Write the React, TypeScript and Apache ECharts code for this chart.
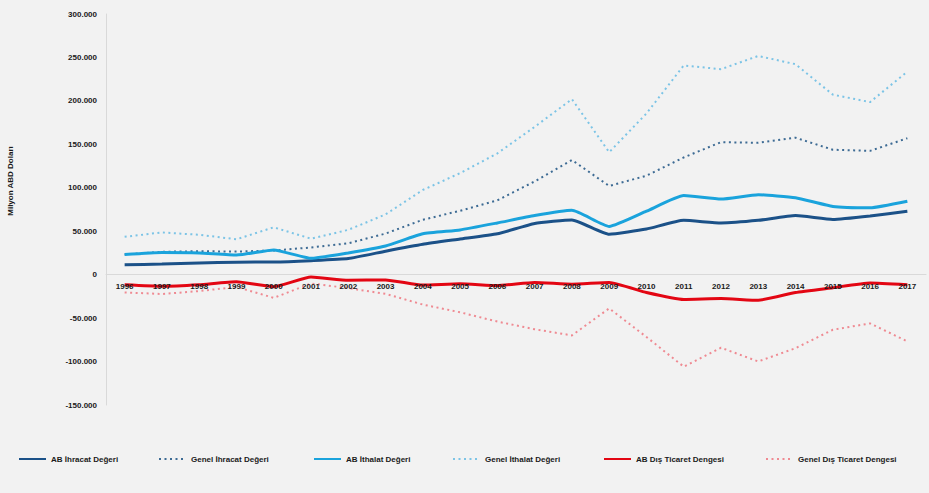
import React, { useEffect, useRef } from "react";
import * as echarts from "echarts";

// Years on the category axis
const years = [
  "1996", "1997", "1998", "1999", "2000", "2001", "2002", "2003", "2004", "2005", "2006",
  "2007", "2008", "2009", "2010", "2011", "2012", "2013", "2014", "2015", "2016", "2017",
];

// Values in million USD
const abIhracat = [11500, 12200, 13500, 14400, 14500, 16100, 18500, 27000, 35000, 41000, 47000,
  59000, 63000, 46500, 52500, 62500, 59500, 62500, 68000, 63500, 67500, 73000];
const genelIhracat = [23200, 26300, 27000, 26600, 27800, 31300, 36100, 47300, 63200, 73500, 85500,
  107300, 132000, 102100, 113900, 134900, 152500, 151800, 157600, 143800, 142500, 157000];
const abIthalat = [23100, 25500, 25000, 22600, 28400, 18800, 25000, 33000, 47000, 51500, 59500,
  68000, 74000, 55500, 73000, 91000, 87000, 92000, 88500, 78500, 77000, 84500];
const genelIthalat = [43600, 48600, 45900, 40700, 54500, 41400, 51600, 69300, 97500, 116800, 139600,
  170100, 202000, 140900, 185500, 240800, 236500, 251700, 242200, 207200, 198600, 233800];
const abDenge = [-11600, -13300, -11500, -8200, -13900, -2700, -6500, -6000, -12000, -10500, -12500,
  -9000, -11000, -9000, -20500, -28500, -27500, -29500, -20500, -15000, -9500, -11500];
const genelDenge = [-20400, -22300, -18900, -14100, -26700, -10100, -15500, -22100, -34400, -43300, -54000,
  -62800, -69900, -38800, -71700, -105900, -84100, -99900, -84600, -63400, -56100, -76800];

// Y-axis ticks
const yMin = -150000;
const yMax = 300000;
const yStep = 50000;

const seriesNames = [
  "AB İhracat Değeri",
  "Genel İhracat Değeri",
  "AB İthalat Değeri",
  "Genel İthalat Değeri",
  "AB Dış Ticaret Dengesi",
  "Genel Dış Ticaret Dengesi",
];

const FONT = "'Liberation Sans', Arial, sans-serif";

const GRID_TOP = 14;
const GRID_BOTTOM = 88;
const CHART_H = 493;

function formatTr(v: number): string {
  const s = Math.abs(v).toString().replace(/\B(?=(\d{3})+(?!\d))/g, ".");
  return v < 0 ? "-" + s : s;
}

export default function App() {
  const ref = useRef<HTMLDivElement>(null);

  useEffect(() => {
    if (!ref.current) return;
    const chart = echarts.init(ref.current, null, { renderer: "svg" });

    // the category axis (line and labels) sits on the zero value
    const plotH = CHART_H - GRID_TOP - GRID_BOTTOM;
    const zeroFromBottom = ((0 - yMin) / (yMax - yMin)) * plotH;

    const solid = (name: string, data: number[], color: string) => ({
      name,
      type: "line",
      data,
      symbol: "none",
      smooth: 0.15,
      lineStyle: { color, width: 3 },
      itemStyle: { color },
    });
    const dotted = (name: string, data: number[], color: string) => ({
      name,
      type: "line",
      data,
      symbol: "none",
      lineStyle: { color, width: 2, type: [2, 3.5] },
      itemStyle: { color },
    });

    const legendLefts = [18, 158, 313, 452, 603, 765];
    const legends = seriesNames.map((n, i) => ({
      data: [n],
      left: legendLefts[i],
      top: 455,
      padding: 0,
      itemWidth: 27,
      itemHeight: 10,
      itemStyle: { opacity: 0 },
      textStyle: { fontFamily: FONT, fontSize: 8, color: "#1a1a1a", fontWeight: "bold" },
      selectedMode: false,
    }));

    chart.setOption({
      animation: false,
      backgroundColor: "#f2f2f2",
      textStyle: { fontFamily: FONT },
      grid: { left: 106, right: 3, top: GRID_TOP, bottom: GRID_BOTTOM, containLabel: false },
      legend: legends,
      graphic: [
        {
          type: "text",
          x: 10,
          y: 181,
          rotation: Math.PI / 2,
          style: {
            text: "Milyon ABD Doları",
            fontFamily: FONT,
            fontSize: 8,
            fontWeight: "bold",
            fill: "#1a1a1a",
            align: "center",
            verticalAlign: "middle",
          },
        },
      ],
      xAxis: {
        type: "category",
        data: years,
        boundaryGap: true,
        offset: -zeroFromBottom,
        axisLine: { onZero: false, lineStyle: { color: "#d9d9d9", width: 1 } },
        axisTick: { show: false },
        axisLabel: {
          margin: 8,
          fontSize: 8,
          fontWeight: "bold",
          color: "#1a1a1a",
          fontFamily: FONT,
          interval: 0,
        },
        splitLine: { show: false },
        z: 10,
      },
      yAxis: {
        type: "value",
        min: yMin,
        max: yMax,
        interval: yStep,
        axisLine: { show: true, lineStyle: { color: "#d9d9d9", width: 1 } },
        axisTick: { show: false },
        splitLine: { show: false },
        axisLabel: {
          margin: 9,
          fontSize: 8,
          fontWeight: "bold",
          color: "#1a1a1a",
          fontFamily: FONT,
          formatter: (v: number) => formatTr(v),
        },
      },
      series: [
        solid(seriesNames[0], abIhracat, "#1b5188"),
        dotted(seriesNames[1], genelIhracat, "#3d6b94"),
        solid(seriesNames[2], abIthalat, "#1aa3dc"),
        dotted(seriesNames[3], genelIthalat, "#7cc4e6"),
        solid(seriesNames[4], abDenge, "#e30613"),
        dotted(seriesNames[5], genelDenge, "#ef8a92"),
      ],
    });

    return () => chart.dispose();
  }, []);

  return (
    <div
      ref={ref}
      style={{ position: "fixed", left: 0, top: 0, width: 929, height: 493, background: "#f2f2f2" }}
    />
  );
}
